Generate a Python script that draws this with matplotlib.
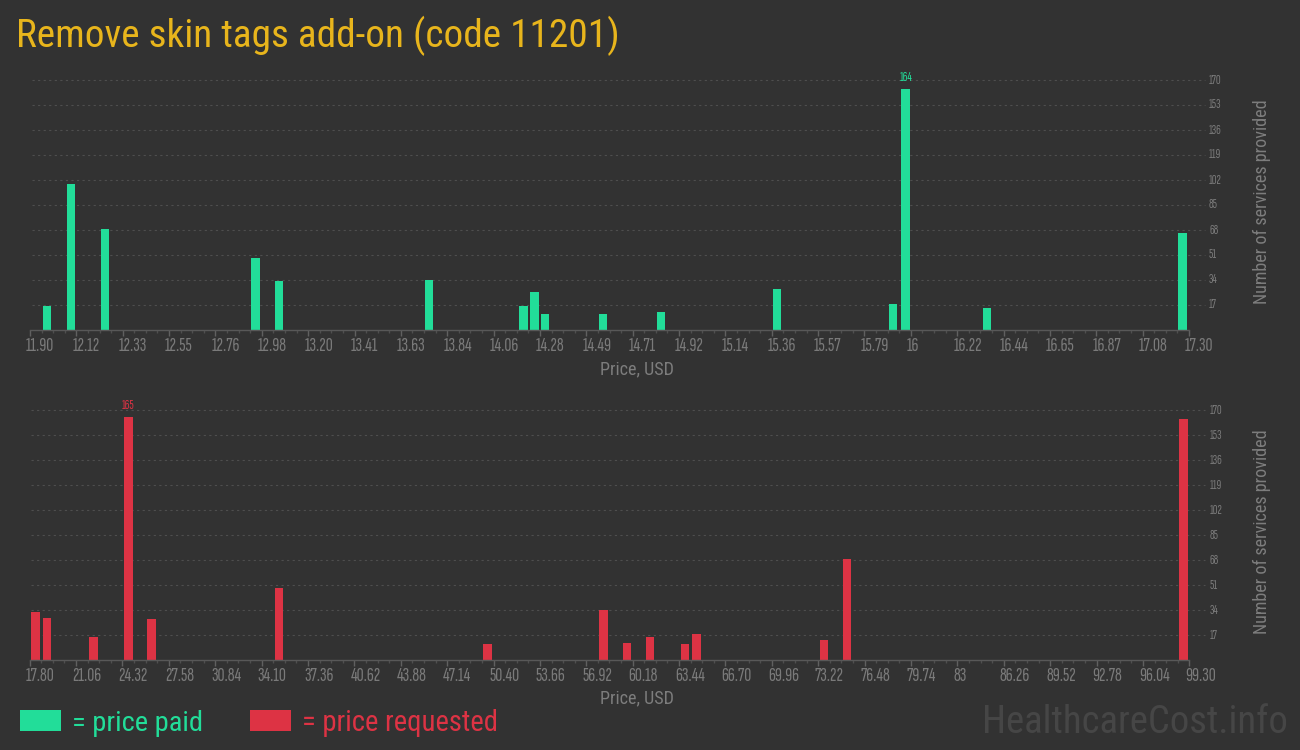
import matplotlib
matplotlib.use("Agg")
import numpy as np
import matplotlib.pyplot as plt
from matplotlib.patches import Rectangle
from matplotlib.transforms import ScaledTranslation, blended_transform_factory

# ---------------- data ----------------
title = "Remove skin tags add-on (code 11201)"

paid_price = [11.98, 12.09, 12.25, 12.95, 13.06, 13.76, 14.20, 14.25, 14.30,
              14.57, 14.84, 15.38, 15.92, 15.98, 16.36, 17.27]
paid_count = [16, 99, 69, 49, 33, 34, 16, 26, 11, 11, 12, 28, 18, 164, 15, 66]

requested_price = [18.21, 19.02, 22.28, 24.73, 26.36, 35.32, 49.99, 58.14,
                   59.77, 61.40, 63.85, 64.66, 73.62, 75.25, 98.89]
requested_count = [33, 29, 16, 165, 28, 49, 11, 34, 12, 16, 11, 18, 14, 69, 164]

paid_ticklabels = ["11.90", "12.12", "12.33", "12.55", "12.76", "12.98", "13.20",
                   "13.41", "13.63", "13.84", "14.06", "14.28", "14.49", "14.71",
                   "14.92", "15.14", "15.36", "15.57", "15.79", "16", "16.22",
                   "16.44", "16.65", "16.87", "17.08", "17.30"]
requested_ticklabels = ["17.80", "21.06", "24.32", "27.58", "30.84", "34.10", "37.36",
                        "40.62", "43.88", "47.14", "50.40", "53.66", "56.92", "60.18",
                        "63.44", "66.70", "69.96", "73.22", "76.48", "79.74", "83",
                        "86.26", "89.52", "92.78", "96.04", "99.30"]
y_ticks = [17, 34, 51, 68, 85, 102, 119, 136, 153, 170]

x_label = "Price, USD"
y_label = "Number of services provided"
legend_paid = "= price paid"
legend_requested = "= price requested"
watermark = "HealthcareCost.info"

# ---------------- style ----------------
BG = "#323232"
GREEN = "#22dd99"
RED = "#dd3344"
GOLD = "#e8b51c"
TICK_COLOR = "#7a7a7a"
LABEL_COLOR = "#7d7d7d"
GRID_COLOR = "#4e4e4e"
AXIS_COLOR = "#585858"
COND = ["Roboto Condensed", "DejaVu Sans"]
NARROW = ["Sofia Sans Extra Condensed", "Roboto Condensed", "DejaVu Sans"]

W, H = 1300, 750
fig = plt.figure(figsize=(W / 100, H / 100), dpi=100, facecolor=BG)


def px_axes(left, top, right, bottom):
    return fig.add_axes([left / W, 1 - bottom / H, (right - left) / W, (bottom - top) / H])


def fit(t, target, vertical=False):
    r = fig.canvas.get_renderer()
    bb = t.get_window_extent(r)
    cur = bb.height if vertical else bb.width
    t.set_fontsize(t.get_fontsize() * target / cur)


def draw_panel(ax, prices, counts, ticklabels, color, bar_frac):
    lo, hi = float(ticklabels[0]), float(ticklabels[-1])
    nbins = 100
    binw = (hi - lo) / nbins
    ax.set_facecolor("none")
    ax.set_xlim(lo, hi)
    ax.set_ylim(0, 170)
    for s in ("top", "left", "right"):
        ax.spines[s].set_visible(False)
    ax.spines["bottom"].set_color(AXIS_COLOR)
    ax.spines["bottom"].set_linewidth(1.0)
    ax.spines["bottom"].set_zorder(3)

    # grid lines, extending a little beyond the plot to the right
    ytr = ax.get_yaxis_transform()
    for v in y_ticks:
        ax.plot([0.0015, 1.0138], [v, v], transform=ytr, color=GRID_COLOR,
                lw=0.8, ls=(0, (2.0, 3.0)), clip_on=False, zorder=0)
        ax.text(1 + 20 / 1159, v, str(v), transform=ytr, ha="left", va="center",
                color=TICK_COLOR, fontsize=9.5, family=NARROW)

    ax.bar(prices, counts, width=binw * bar_frac, color=color, zorder=2, linewidth=0)

    # label on the tallest bar
    i = int(np.argmax(counts))
    off = ScaledTranslation(0, 5 / 100, fig.dpi_scale_trans)
    ax.text(prices[i], counts[i], str(counts[i]), ha="center", va="bottom",
            color=color, fontsize=9.5, family=NARROW,
            transform=ax.transData + off, clip_on=False)

    # x ticks
    major = np.linspace(lo, hi, len(ticklabels))
    minor = np.linspace(lo, hi, nbins + 1)
    ax.set_xticks(major)
    ax.set_xticklabels([])
    ax.set_xticks(minor, minor=True)
    ax.tick_params(axis="x", which="major", direction="out", length=4, width=1,
                   color="#606060", labelbottom=False)
    ax.tick_params(axis="x", which="minor", direction="out", length=2, width=1,
                   color="#4f4f4f")
    ax.set_yticks([])
    xtr = blended_transform_factory(ax.transData, ax.transAxes)
    loff = ScaledTranslation(-4 / 100, -7 / 100, fig.dpi_scale_trans)
    for pos, lab in zip(major, ticklabels):
        ax.text(pos, 0, lab, transform=xtr + loff, ha="left", va="top",
                color=TICK_COLOR, fontsize=14, family=NARROW)


ax1 = px_axes(30, 80, 1189, 330)
draw_panel(ax1, paid_price, paid_count, paid_ticklabels, GREEN, 0.73)
ax2 = px_axes(29.7, 410, 1189.3, 660.3)
draw_panel(ax2, requested_price, requested_count, requested_ticklabels, RED, 0.73)

# axis labels
for yc in (369, 698):
    t = fig.text(637 / W, 1 - yc / H, x_label, ha="center", va="center",
                 color=LABEL_COLOR, fontsize=12, family=COND)
    fit(t, 74)
for yc in (201.5, 531.5):
    t = fig.text(1262 / W, 1 - yc / H, y_label, ha="center", va="center", rotation=90,
                 color=LABEL_COLOR, fontsize=12, family=COND)
    fit(t, 205, vertical=True)

# title
t = fig.text(16 / W, 1 - 47 / H, title, ha="left", va="baseline", color=GOLD,
             fontsize=28, family=COND)
fit(t, 603)

# legend
fig.add_artist(Rectangle((20 / W, 1 - 731 / H), 41 / W, 21 / H, transform=fig.transFigure,
                         facecolor=GREEN, edgecolor="none"))
t = fig.text(72 / W, 1 - 731 / H, legend_paid, ha="left", va="baseline", color=GREEN,
             fontsize=18, family=COND)
fit(t, 131)
fig.add_artist(Rectangle((250 / W, 1 - 731 / H), 41 / W, 21 / H, transform=fig.transFigure,
                         facecolor=RED, edgecolor="none"))
t = fig.text(302 / W, 1 - 731 / H, legend_requested, ha="left", va="baseline", color=RED,
             fontsize=18, family=COND)
fit(t, 196)

# watermark
t = fig.text(982 / W, 1 - 733 / H, watermark, ha="left", va="baseline", color="#464646",
             fontsize=28, family=COND)
fit(t, 306)

fig.savefig("out.png", dpi=100, facecolor=BG)
